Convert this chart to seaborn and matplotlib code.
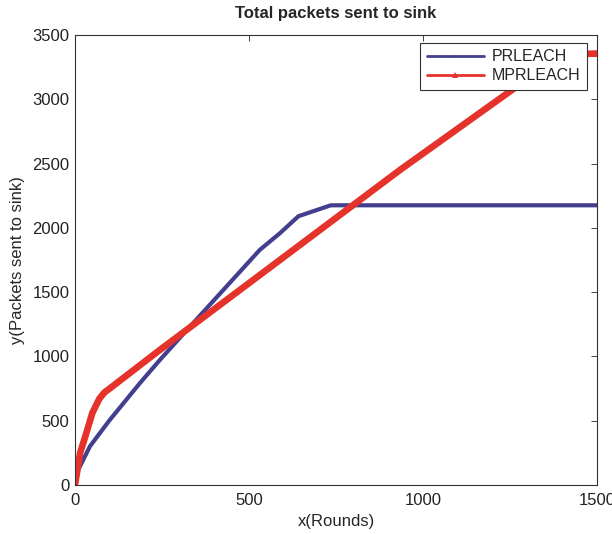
import matplotlib
matplotlib.use("Agg")
import matplotlib.pyplot as plt
import seaborn as sns
import pandas as pd

prleach_x = [0, 10, 43, 100, 187, 244, 330, 531, 589, 642, 735, 1500]
prleach_y = [0, 120, 300, 505, 793, 972, 1230, 1828, 1958, 2090, 2175, 2175]

mprleach_x = [0, 15, 30, 50, 70, 85, 100, 244, 589, 934, 1269, 1390, 1500]
mprleach_y = [0, 250, 380, 560, 670, 720, 750, 1050, 1750, 2450, 3098, 3350, 3355]

series_names = ["PRLEACH", "MPRLEACH"]

df = pd.concat([
    pd.DataFrame({"x": prleach_x, "y": prleach_y, "alg": series_names[0]}),
    pd.DataFrame({"x": mprleach_x, "y": mprleach_y, "alg": series_names[1]}),
])

sns.set_style("white")
plt.rcParams["font.family"] = ["Liberation Sans", "DejaVu Sans"]

fig = plt.figure(figsize=(6.12, 5.34), dpi=100)
ax = fig.add_axes([0.1225, 0.092, 0.853, 0.8425])

kolory = {"PRLEACH": "#433f8e", "MPRLEACH": "#e5322b"}
grubosc = {"PRLEACH": 3.0, "MPRLEACH": 4.8}
znaczniki = {"PRLEACH": ".", "MPRLEACH": "^"}

for name in series_names:
    sub = df[df["alg"] == name]
    sns.lineplot(data=sub, x="x", y="y", ax=ax, color=kolory[name],
                 linewidth=grubosc[name], marker=znaczniki[name], markersize=2.5,
                 markeredgewidth=0, label=name, sort=False, estimator=None)

ax.set_xlim(0, 1500)
ax.set_ylim(0, 3500)
ax.set_xticks([0, 500, 1000, 1500])
ax.set_yticks(range(0, 3501, 500))
ax.tick_params(direction="in", length=4, width=0.6, top=True, right=True,
               labelsize=12, colors="#222222")
ax.tick_params(axis="x", pad=6)
ax.tick_params(axis="y", pad=4)
for s in ax.spines.values():
    s.set_color("#333333")
    s.set_linewidth(0.8)

ax.set_title("Total packets sent to sink", fontsize=12, fontweight="bold", pad=12)
ax.set_xlabel("x(Rounds)", fontsize=12, labelpad=4)
ax.set_ylabel("y(Packets sent to sink)", fontsize=12, labelpad=5)

leg = ax.legend(loc="upper right", fontsize=11.5, frameon=True, fancybox=False,
                borderaxespad=0, handlelength=3.6, borderpad=0.4,
                labelspacing=0.25, handletextpad=0.5,
                bbox_to_anchor=(0.981, 0.982))
leg.get_frame().set_edgecolor("#333333")
leg.get_frame().set_linewidth(0.8)
leg.get_frame().set_alpha(1)
for line in leg.get_lines():
    line.set_linewidth(2)
    line.set_markersize(4)

fig.savefig("out.png", dpi=100)
